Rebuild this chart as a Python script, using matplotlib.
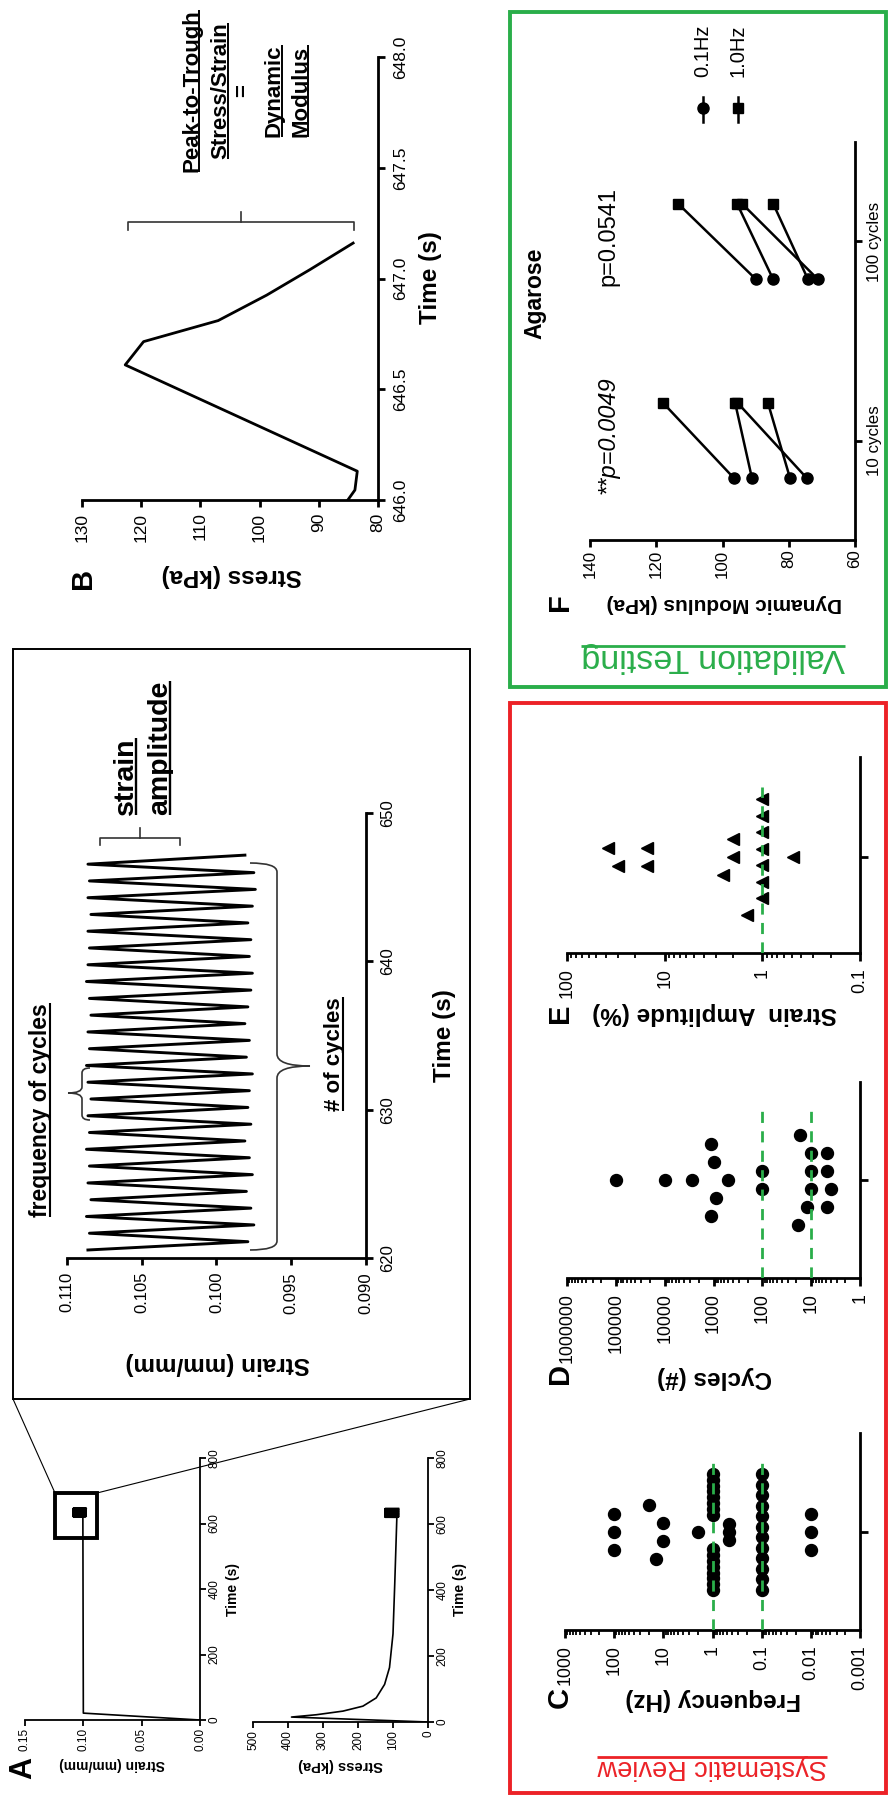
import numpy as np
import matplotlib
matplotlib.use("Agg")
import matplotlib.pyplot as plt
from matplotlib.path import Path
from matplotlib.patches import PathPatch, Rectangle
from matplotlib.ticker import FixedLocator, FuncFormatter, LogLocator, NullFormatter, FormatStrFormatter

plt.rcParams["font.family"] = ["Liberation Sans", "DejaVu Sans"]

W, H = 890, 1796
GREEN = "#2aae4a"
RED = "#ec2227"

# ---------------------------------------------------------------- data
# ramp + hold (panel A overview)
A_STRAIN_T = [0, 21, 620.13]
A_STRAIN_V = [0.0, 0.100, 0.1004]
A_STRESS_T = [0, 15, 22, 33, 48, 73, 114, 165, 267, 419, 620.13]
A_STRESS_V = [0, 390, 319, 243, 186, 148, 124, 110, 100, 95, 89]

# cyclic part (zoomed inset)
PEAK_T = [620.54, 621.67, 622.80, 623.93, 625.06, 626.20, 627.33, 628.46,
          629.59, 630.72, 631.85, 632.98, 634.11, 635.24, 636.37, 637.50,
          638.64, 639.77, 640.90, 642.03, 643.16, 644.29, 645.42, 646.55]
TROUGH_T = [621.10, 622.23, 623.36, 624.49, 625.62, 626.76, 627.89, 629.02,
            630.15, 631.28, 632.41, 633.54, 634.67, 635.80, 636.93, 638.06,
            639.20, 640.33, 641.46, 642.59, 643.72, 644.85, 645.98, 647.16]
PEAK_STRAIN = [0.1086, 0.1085, 0.1087, 0.1084, 0.1086, 0.1085, 0.1087, 0.1085,
               0.1086, 0.1084, 0.1086, 0.1087, 0.1085, 0.1086, 0.1084, 0.1085,
               0.1087, 0.1086, 0.1085, 0.1086, 0.1084, 0.1086, 0.1085, 0.1086]
TROUGH_STRAIN = [0.0979, 0.0975, 0.0977, 0.0980, 0.0976, 0.0978, 0.0981, 0.0977,
                 0.0979, 0.0978, 0.0976, 0.0980, 0.0978, 0.0981, 0.0979, 0.0977,
                 0.0976, 0.0978, 0.0977, 0.0979, 0.0976, 0.0974, 0.0975, 0.0981]
PEAK_STRESS = [122.5, 122.0, 123.0, 122.2, 122.8, 122.1, 122.6, 122.4,
               122.9, 122.0, 122.5, 122.7, 122.3, 122.6, 122.1, 122.4,
               122.8, 122.2, 122.5, 122.6, 122.0, 122.4, 122.3, 122.7]
TROUGH_STRESS = [84.2, 84.5, 84.0, 84.3, 84.6, 84.1, 84.4, 84.2,
                 84.5, 84.0, 84.3, 84.6, 84.1, 84.4, 84.2, 84.5,
                 84.0, 84.3, 84.6, 84.1, 84.4, 84.2, 84.5, 84.2]

# one cycle (panel B)
B_TIME = [646.0, 646.045, 646.13, 646.61, 646.715, 646.81, 646.925, 647.04, 647.16]
B_STRESS = [85.1, 83.9, 83.5, 122.7, 119.6, 107.0, 98.8, 91.5, 84.2]

# systematic review, swarm rows (top to bottom)
C_ROWS = [[100, 100, 100], [20, 10, 10, 14], [2], [1] * 16, [0.47] * 3,
          [0.1] * 12, [0.01] * 3]
D_ROWS = [[100000], [10000], [2700], [1100, 1000, 900, 1100], [494], [100, 100],
          [16.8, 10, 10, 10, 12, 19], [4.7, 4.7, 3.9, 4.7]]
E_ROWS = [[38, 30], [15, 15], [2.0, 2.0, 2.5], [1] * 7 + [1.45], [0.49]]
C_REF = [1, 0.1]
D_REF = [100, 10]
E_REF = [1]

# validation testing (agarose), paired 1.0 Hz -> 0.1 Hz
F_CATS = ["10 cycles", "100 cycles"]
F_SQ = [[118.0, 96.2, 95.5, 86.3], [113.4, 95.6, 94.1, 84.7]]
F_CI = [[96.5, 91.1, 74.5, 79.6], [89.9, 84.7, 71.2, 74.2]]


def wave(peaks_t, peaks_v, troughs_t, troughs_v):
    t, v = [], []
    for a, b, c, d in zip(peaks_t, peaks_v, troughs_t, troughs_v):
        t += [a, c]
        v += [b, d]
    return t, v


CYC_T, CYC_STRAIN = wave(PEAK_T, PEAK_STRAIN, TROUGH_T, TROUGH_STRAIN)
_, CYC_STRESS = wave(PEAK_T, PEAK_STRESS, TROUGH_T, TROUGH_STRESS)

# ---------------------------------------------------------------- figure
fig = plt.figure(figsize=(W / 100, H / 100), dpi=100)
over = fig.add_axes([0, 0, 1, 1], zorder=10)
over.set_xlim(0, W)
over.set_ylim(H, 0)
over.axis("off")


def px_axes(x0, x1, ytop, ybot):
    return fig.add_axes([x0 / W, 1 - ybot / H, (x1 - x0) / W, (ybot - ytop) / H])


def rot_axes(x0, x1, ytop, ybot, lw=2.0, tlen=5.0, fs=12.5, xpad=4, ypad=4):
    # figure is laid out sideways: data value runs right->left, time/category upwards
    ax = px_axes(x0, x1, ytop, ybot)
    ax.patch.set_alpha(0)
    ax.spines["left"].set_visible(False)
    ax.spines["top"].set_visible(False)
    for s in ("bottom", "right"):
        ax.spines[s].set_linewidth(lw)
    ax.yaxis.set_ticks_position("right")
    ax.tick_params(which="major", direction="out", length=tlen, width=lw, labelsize=fs)
    ax.tick_params(axis="x", labelrotation=90, pad=xpad)
    ax.tick_params(axis="y", labelrotation=90, pad=ypad, labelright=True, labelleft=False)
    return ax


def yva(ax):
    for lab in ax.get_yticklabels():
        lab.set_va("center")


def txt(x, y, s, rot=90, size=12, weight="normal", color="k", ha="center",
        va="center", style="normal", mode="default"):
    return over.text(x, y, s, rotation=rot, fontsize=size, fontweight=weight,
                     color=color, ha=ha, va=va, fontstyle=style, rotation_mode=mode)


def logfmt(v, _):
    return f"{int(round(v))}" if v >= 1 else f"{v:g}"


def swarm(rows, ppd, half=58, smax=18, near=20, gap=17):
    n = [len(r) for r in rows]
    med = [np.log10(np.median(r)) * ppd for r in rows]
    base = [smax if k < 2 else min(smax, 2 * half / (k - 1)) for k in n]
    vals, offs = [], []
    for i, r in enumerate(rows):
        close = [j for j in range(len(rows)) if abs(med[j] - med[i]) < near]
        s = min(base[j] for j in close)
        blocked = any(n[j] % 2 == 1 for j in close if j != i)
        k = n[i]
        if blocked and k > 1:
            m = k
            while True:
                m += 1
                sp = min(smax, 2 * half / (m - 1))
                slots = (np.arange(m) - (m - 1) / 2) * sp
                slots = slots[np.abs(slots) >= gap]
                if len(slots) >= k:
                    break
            o = slots[:k]
        else:
            o = (np.arange(k) - (k - 1) / 2) * s
        vals.extend(r)
        offs.extend(list(o[::-1]))
    return np.array(vals, float), np.array(offs, float)


# ---------------------------------------------------------------- panel A overview
axs = rot_axes(25, 200, 1458, 1720, lw=1.3, tlen=4, fs=8.5, xpad=2, ypad=2)
axs.plot(A_STRAIN_V + CYC_STRAIN, A_STRAIN_T + CYC_T, color="k", lw=1.2)
axs.set_xlim(0.15, 0.0)
axs.set_ylim(0, 800)
axs.xaxis.set_major_locator(FixedLocator([0.15, 0.10, 0.05, 0.0]))
axs.xaxis.set_major_formatter(FormatStrFormatter("%.2f"))
axs.yaxis.set_major_locator(FixedLocator([0, 200, 400, 600, 800]))
yva(axs)

axp = rot_axes(253, 428, 1458, 1722, lw=1.3, tlen=4, fs=8.5, xpad=2, ypad=2)
axp.plot(A_STRESS_V + CYC_STRESS, A_STRESS_T + CYC_T, color="k", lw=1.2)
axp.set_xlim(500, 0)
axp.set_ylim(0, 800)
axp.xaxis.set_major_locator(FixedLocator([500, 400, 300, 200, 100, 0]))
axp.yaxis.set_major_locator(FixedLocator([0, 200, 400, 600, 800]))
yva(axp)

txt(112, 1764, "Strain (mm/mm)", rot=180, size=10, weight="bold")
txt(341, 1765, "Stress (kPa)", rot=180, size=10.5, weight="bold")
txt(233, 1590, "Time (s)", size=10, weight="bold")
txt(460, 1590, "Time (s)", size=10, weight="bold")
txt(23, 1768, "A", size=22, weight="bold")

# zoom box and connectors
over.add_patch(Rectangle((55, 1493), 42, 45, fill=False, ec="k", lw=2.8))
over.add_patch(Rectangle((13, 649), 457, 750, fill=False, ec="k", lw=1.4))
over.plot([55, 13], [1493, 1399], color="k", lw=0.8)
over.plot([97, 470], [1493, 1399], color="k", lw=0.8)

# ---------------------------------------------------------------- inset (zoomed strain)
axi = rot_axes(67, 366, 813, 1258, lw=2.0, tlen=5, fs=12, xpad=5, ypad=5)
axi.plot(CYC_STRAIN, CYC_T, color="k", lw=2.1)
axi.set_xlim(0.110, 0.090)
axi.set_ylim(620, 650)
axi.xaxis.set_major_locator(FixedLocator([0.110, 0.105, 0.100, 0.095, 0.090]))
axi.xaxis.set_major_formatter(FormatStrFormatter("%.3f"))
axi.yaxis.set_major_locator(FixedLocator([620, 630, 640, 650]))
yva(axi)
txt(218, 1363, "Strain (mm/mm)", rot=180, size=17.5, weight="bold")
txt(445, 1036, "Time (s)", size=17.5, weight="bold")


def brace(x_end, x_mid, x_tip, y0, y1, yt, r, rt, lw=1.2):
    verts = [(x_end, y0), (x_mid, y0), (x_mid, y0 + r),
             (x_mid, yt - rt), (x_mid, yt), (x_tip, yt),
             (x_mid, yt), (x_mid, yt + rt),
             (x_mid, y1 - r), (x_mid, y1), (x_end, y1)]
    codes = [Path.MOVETO, Path.CURVE3, Path.CURVE3, Path.LINETO, Path.CURVE3,
             Path.CURVE3, Path.CURVE3, Path.CURVE3, Path.LINETO, Path.CURVE3, Path.CURVE3]
    over.add_patch(PathPatch(Path(verts, codes), fill=False, ec="#333333", lw=lw))


def bracket(x0, x1, y, yend, ytick, lw=1.2):
    xm = (x0 + x1) / 2
    over.plot([x0, x0, x1, x1], [yend, y, y, yend], color="#333333", lw=lw)
    over.plot([xm, xm], [y, ytick], color="#333333", lw=lw)


brace(250, 277, 310, 863, 1250, 1066, 9, 12)
brace(90, 82, 68, 1068, 1120, 1093, 5, 6)
bracket(100, 180, 838, 845, 828)

underlines = []
t = txt(47, 1110, "frequency of cycles", size=16.5, weight="bold", va="baseline", mode="anchor")
underlines.append((t, 49.5, True, 1.5))
t = txt(340, 1054, "# of cycles", size=16, weight="bold", va="baseline", mode="anchor")
underlines.append((t, 342.5, True, 1.5))
t = txt(133, 815, "strain", size=20.5, weight="bold", ha="left", va="baseline", mode="anchor")
underlines.append((t, 136, True, 1.7))
t = txt(167, 815, "amplitude", size=20.5, weight="bold", ha="left", va="baseline", mode="anchor")
underlines.append((t, 170, True, 1.7))

# ---------------------------------------------------------------- panel B
axb = rot_axes(82, 378, 57, 500, lw=2.0, tlen=5, fs=12.5, xpad=4, ypad=6)
axb.plot(B_STRESS, B_TIME, color="k", lw=2.0)
axb.set_xlim(130, 80)
axb.set_ylim(646, 648)
axb.xaxis.set_major_locator(FixedLocator([130, 120, 110, 100, 90, 80]))
axb.yaxis.set_major_locator(FixedLocator([646.0, 646.5, 647.0, 647.5, 648.0]))
axb.yaxis.set_major_formatter(FormatStrFormatter("%.1f"))
yva(axb)
txt(232, 576, "Stress (kPa)", rot=180, size=17.5, weight="bold")
txt(431, 278, "Time (s)", size=17.5, weight="bold")
txt(83, 578, "B", size=21, weight="bold")
bracket(128, 354, 222, 230, 212)

for s, xb, fs in [("Peak-to-Trough", 197, 16), ("Stress/Strain", 226, 16),
                  ("Dynamic", 280, 16), ("Modulus", 306, 16)]:
    t = txt(xb, 91, s, size=fs, weight="bold", va="baseline", mode="anchor")
    underlines.append((t, xb + 2, True, 1.4))
txt(248, 91, "=", size=16, weight="bold", va="baseline", mode="anchor")

# ---------------------------------------------------------------- boxes
over.add_patch(Rectangle((510, 12), 376, 675, fill=False, ec=GREEN, lw=2.8))
over.add_patch(Rectangle((510, 703), 376, 1090, fill=False, ec=RED, lw=2.8))
t = txt(713, 649, "Validation Testing", rot=180, size=24.5, color=GREEN,
        va="baseline", mode="anchor")
underlines.append((t, 646, False, 2.0))
t = txt(712, 1760, "Systematic Review", rot=180, size=19.5, color=RED,
        va="baseline", mode="anchor")
underlines.append((t, 1757, False, 2.0))

# ---------------------------------------------------------------- panel F
axf = rot_axes(590, 855, 142, 540, lw=2.0, tlen=5, fs=12.2, xpad=2, ypad=4)
for c in range(len(F_CATS)):
    for sq, ci in zip(F_SQ[c], F_CI[c]):
        axf.plot([sq, ci], [c + 0.19, c - 0.19], color="k", lw=1.8, zorder=2)
    axf.plot(F_SQ[c], [c + 0.19] * len(F_SQ[c]), "s", color="k", ms=7.5, zorder=3)
    axf.plot(F_CI[c], [c - 0.19] * len(F_CI[c]), "o", color="k", ms=8, zorder=3)
axf.set_xlim(140, 60)
axf.set_ylim(-0.5, 1.5)
axf.xaxis.set_major_locator(FixedLocator([140, 120, 100, 80, 60]))
axf.yaxis.set_major_locator(FixedLocator([0, 1]))
axf.set_yticklabels(F_CATS)
yva(axf)
txt(724, 603, "Dynamic Modulus (kPa)", rot=180, size=15, weight="bold")
txt(560, 602, "F", size=21, weight="bold")
txt(535, 293, "Agarose", size=16.5, weight="bold")
txt(608, 237, "p=0.0541", size=17)
txt(608, 435, "**p=0.0049", size=17, style="italic")
for xm, mk, ms, lab in [(703, "o", 8, "0.1Hz"), (738, "s", 7.5, "1.0Hz")]:
    over.plot([xm, xm], [97, 122], color="k", lw=1.8)
    over.plot([xm], [108], mk, color="k", ms=ms)
    txt(xm, 77, lab, size=14.5, va="bottom")


# ---------------------------------------------------------------- panels C, D, E
def swarm_panel(x0, x1, ytop, ybot, lims, rows, refs, marker, ms, ylo, yhi, ticks):
    ax = rot_axes(x0, x1, ytop, ybot, lw=2.0, tlen=6, fs=12.8, xpad=5, ypad=4)
    ax.set_xscale("log")
    ax.set_xlim(*lims)
    ax.set_ylim(ylo, yhi)
    ppd = (x1 - x0) / np.log10(lims[0] / lims[1])
    v, o = swarm(rows, ppd)
    ax.plot(v, o, marker, color="k", ms=ms, ls="none", zorder=3)
    for r in refs:
        ax.plot([r, r], [ylo, 70], color=GREEN, lw=2.0, dashes=(4, 3), zorder=4)
    ax.xaxis.set_major_locator(FixedLocator(ticks))
    ax.xaxis.set_major_formatter(FuncFormatter(logfmt))
    ax.xaxis.set_minor_locator(LogLocator(base=10, subs=np.arange(2, 10) * 1.0, numticks=100))
    ax.xaxis.set_minor_formatter(NullFormatter())
    ax.tick_params(axis="x", which="minor", direction="out", length=3.5, width=1.3)
    ax.yaxis.set_major_locator(FixedLocator([0]))
    ax.set_yticklabels([])
    return ax


swarm_panel(565, 860, 1433, 1630, (1000, 0.001), C_ROWS, C_REF, "o", 8.6, -98, 99,
            [1000, 100, 10, 1, 0.1, 0.01, 0.001])
txt(713, 1700, "Frequency (Hz)", rot=180, size=17.5, weight="bold")
txt(560, 1698, "C", size=21, weight="bold")

swarm_panel(567, 860, 1082, 1278, (1e6, 1), D_ROWS, D_REF, "o", 8.6, -98, 98,
            [1e6, 1e5, 1e4, 1e3, 100, 10, 1])
txt(715, 1377, "Cycles (#)", rot=180, size=17.5, weight="bold")
txt(560, 1374, "D", size=21, weight="bold")

swarm_panel(567, 860, 757, 953, (100, 0.1), E_ROWS, E_REF, "<", 8.5, -96, 100,
            [100, 10, 1, 0.1])
txt(715, 1013, "Strain  Amplitude (%)", rot=180, size=17.5, weight="bold")
txt(560, 1013, "E", size=21, weight="bold")

# ---------------------------------------------------------------- underlines
fig.canvas.draw()
rend = fig.canvas.get_renderer()
inv = over.transData.inverted()
for t, pos, vertical, lw in underlines:
    bb = t.get_window_extent(rend)
    (ax0, ay0), (ax1, ay1) = inv.transform([[bb.x0, bb.y0], [bb.x1, bb.y1]])
    if vertical:
        over.plot([pos, pos], [ay0, ay1], color=t.get_color(), lw=lw, solid_capstyle="butt")
    else:
        over.plot([ax0, ax1], [pos, pos], color=t.get_color(), lw=lw, solid_capstyle="butt")

fig.savefig("out.png", dpi=100, facecolor="white")
